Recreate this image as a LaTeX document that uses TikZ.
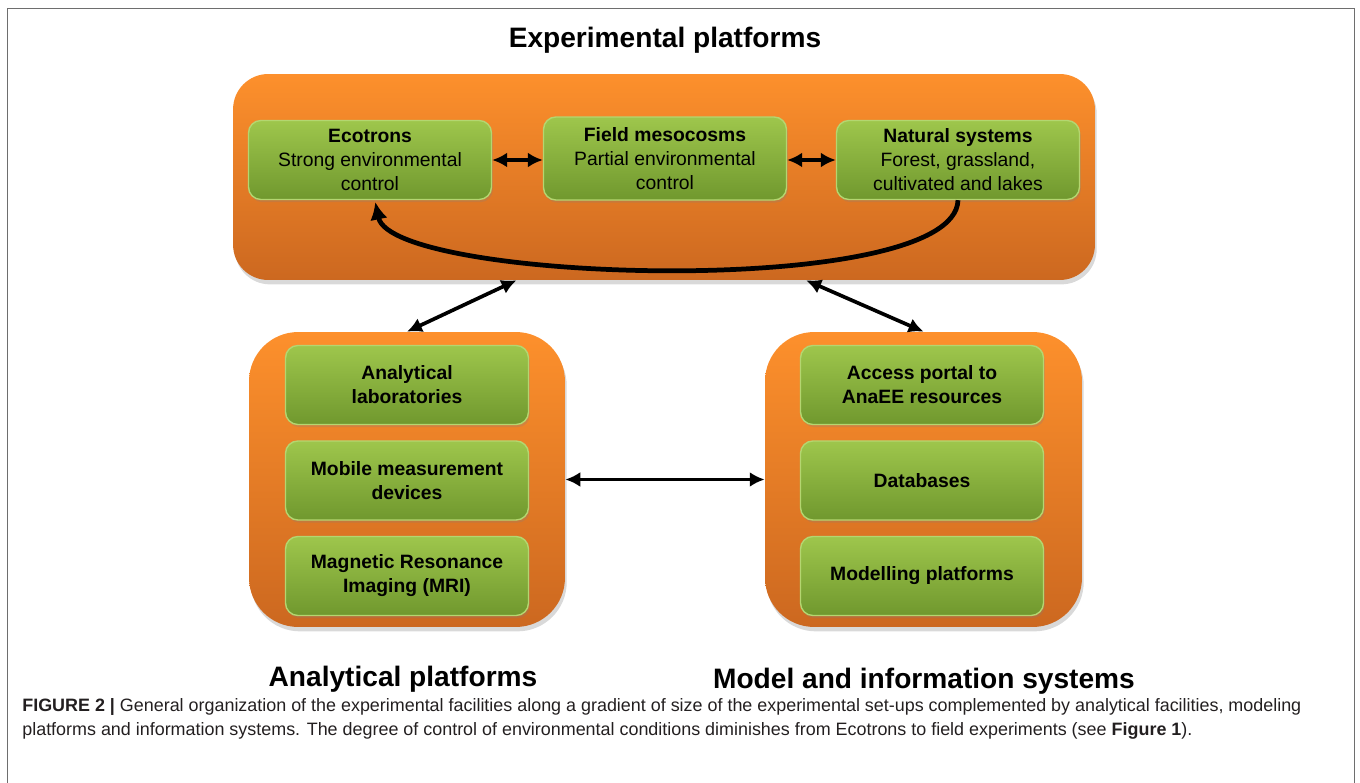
\documentclass[tikz,border=0pt]{standalone}
\usepackage{fontspec}
\setmainfont{Liberation Sans}
\usetikzlibrary{arrows.meta,shadows}
\definecolor{orTop}{RGB}{253,144,44}
\definecolor{orBot}{RGB}{204,104,32}
\definecolor{grTop}{RGB}{158,198,76}
\definecolor{grBot}{RGB}{112,152,46}
\definecolor{grEdge}{RGB}{180,214,112}
\definecolor{frameGray}{RGB}{110,110,110}
\definecolor{capText}{RGB}{35,31,32}

\begin{document}
\begin{tikzpicture}[x=0.02cm,y=-0.02cm,
  platform/.style={rounded corners=#1,top color=orTop,bottom color=orBot,
    drop shadow={opacity=0.3,shadow xshift=1pt,shadow yshift=-2.5pt}},
  unit/.style={rounded corners=7pt,top color=grTop,bottom color=grBot,draw=grEdge,
    line width=0.8pt,minimum width=4.86cm,minimum height=1.58cm,align=center,inner sep=0pt,
    font=\fontsize{11}{13.7}\selectfont,
    drop shadow={opacity=0.25,shadow xshift=0.8pt,shadow yshift=-1.5pt}},
  link/.style={{Latex[length=8.5pt,width=8.5pt]}-{Latex[length=8.5pt,width=8.5pt]},line width=2.1pt},
  heading/.style={font=\fontsize{16}{19}\selectfont\bfseries},
  capline/.style={anchor=base west,text=capText,inner sep=0pt,font=\fontsize{10.2}{13.7}\selectfont}]
\useasboundingbox (0,0) rectangle (1360,783);
\draw[frameGray,line width=1.1pt] (7.5,783) -- (7.5,8.5) -- (1354.5,8.5) -- (1354.5,783);
\node[heading] (title) at (665,40) {Experimental platforms};
\node[platform=20pt,minimum width=17.24cm,minimum height=4.12cm] (exp) at (664,177) {};
\node[unit] (eco) at (370,160) {\textbf{Ecotrons}\\Strong environmental\\control};
\node[unit,minimum height=1.66cm] (meso) at (665,158.5) {\textbf{Field mesocosms}\\Partial environmental\\control};
\node[unit] (nat) at (958,160) {\textbf{Natural systems}\\Forest, grassland,\\cultivated and lakes};
\node[platform=28pt,minimum width=6.32cm,minimum height=5.9cm] (ana) at (407,479.5) {};
\node[unit] (lab) at (407,385) {\bfseries Analytical\\\bfseries laboratories};
\node[unit] (mob) at (407,480.5) {\bfseries Mobile measurement\\\bfseries devices};
\node[unit] (mri) at (407,576) {\bfseries Magnetic Resonance\\\bfseries Imaging (MRI)};
\node[platform=28pt,minimum width=6.34cm,minimum height=5.9cm] (info) at (923.5,479.5) {};
\node[unit] (portal) at (922,385) {\bfseries Access portal to\\\bfseries AnaEE resources};
\node[unit] (db) at (922,480.5) {\bfseries Databases};
\node[unit] (model) at (922,576) {\bfseries Modelling platforms};
\draw[link] (eco.east) -- (eco.east -| meso.west);
\draw[link] (nat.west -| meso.east) -- (nat.west);
\draw[-{Latex[length=10pt,width=10pt]},line width=2.7pt] (nat.south) .. controls (955,300) and (392,283) .. ([xshift=3pt,yshift=-1pt]eco.south);
\draw[link] (exp.-145) -- (ana.north);
\draw[link] (exp.-36.5) -- (info.north);
\draw[link] (ana.east) -- (info.west);
\node[heading] (anatitle) at (403,679) {Analytical platforms};
\node[heading] (infotitle) at (924,681) {Model and information systems};
\node[capline] (cap1) at (22,712) {\textbf{FIGURE 2 |} General organization of the experimental facilities along a gradient of size of the experimental set-ups complemented by analytical facilities, modeling};
\node[capline] (cap2) at (22,736) {platforms and information systems. The degree of control of environmental conditions diminishes from Ecotrons to field experiments (see \textbf{Figure 1}).};
\end{tikzpicture}
\end{document}
